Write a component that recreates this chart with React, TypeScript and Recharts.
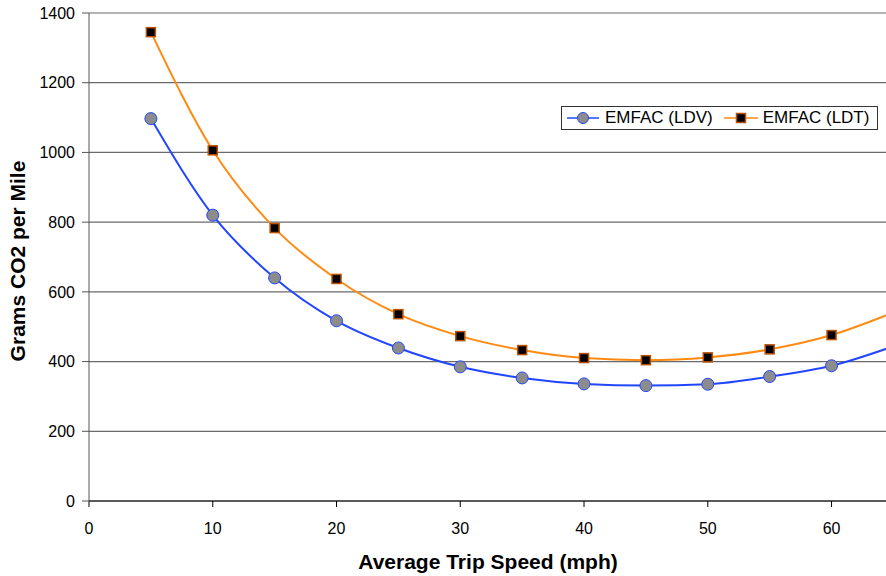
import {
  LineChart,
  Line,
  XAxis,
  YAxis,
  CartesianGrid,
} from "recharts";

const speeds = [5, 10, 15, 20, 25, 30, 35, 40, 45, 50, 55, 60, 65];
const ldv = [1097, 820, 640, 517, 439, 385, 353, 336, 331, 335, 357, 388, 444];
const ldt = [1345, 1006, 783, 637, 536, 473, 433, 410, 404, 412, 435, 476, 541];
const xTicks = [0, 10, 20, 30, 40, 50, 60];
const yTicks = [0, 200, 400, 600, 800, 1000, 1200, 1400];

const data = speeds.map((s, i) => ({ speed: s, ldv: ldv[i], ldt: ldt[i] }));

const FONT = "'Liberation Sans', Arial, sans-serif";
const BLUE = "#2246ff";
const ORANGE = "#ff8a12";

const SquareDot = (props: any) => {
  const { cx, cy } = props;
  if (cx == null || cy == null) return null;
  return (
    <rect
      x={cx - 4.5}
      y={cy - 4.5}
      width={9}
      height={9}
      fill="#000"
      stroke="#b85000"
      strokeWidth={1.5}
    />
  );
};

function LegendBox() {
  return (
    <div
      style={{
        position: "absolute",
        left: 561,
        top: 106,
        width: 317,
        height: 24,
        boxSizing: "border-box",
        border: "1px solid #333",
        background: "#fff",
        display: "flex",
        alignItems: "center",
        fontFamily: FONT,
        fontSize: 17,
        color: "#000",
        whiteSpace: "nowrap",
      }}
    >
      <svg width={36} height={20} style={{ marginLeft: 3 }}>
        <line x1={2} y1={10} x2={34} y2={10} stroke={BLUE} strokeWidth={1.5} />
        <circle cx={18} cy={10} r={5.5} fill="#8c8c8c" stroke={BLUE} strokeWidth={1} />
      </svg>
      <span style={{ marginLeft: 4 }}>EMFAC (LDV)</span>
      <svg width={38} height={20} style={{ marginLeft: 9 }}>
        <line x1={2} y1={10} x2={36} y2={10} stroke={ORANGE} strokeWidth={1.5} />
        <rect x={14.5} y={5.5} width={9} height={9} fill="#000" stroke="#b85000" strokeWidth={1.5} />
      </svg>
      <span style={{ marginLeft: 3 }}>EMFAC (LDT)</span>
    </div>
  );
}

export default function App() {
  return (
    <div style={{ position: "absolute", left: 0, top: 0, width: 886, height: 576, background: "#fff" }}>
      <LineChart
        width={886}
        height={576}
        data={data}
        margin={{ top: 13, right: 0, bottom: 0, left: 0 }}
      >
        <CartesianGrid vertical={false} stroke="#6a6a6a" strokeWidth={1.2} />
        <XAxis
          dataKey="speed"
          type="number"
          domain={[0, 64.4]}
          allowDataOverflow
          ticks={xTicks}
          height={75}
          stroke="#000"
          tickSize={6}
          tickMargin={16}
          tick={{ fill: "#000", fontSize: 16, fontFamily: FONT }}
          label={{
            content: () => (
              <text
                x={488}
                y={569}
                textAnchor="middle"
                fontFamily={FONT}
                fontSize={21}
                fontWeight="bold"
                fill="#000"
              >
                Average Trip Speed (mph)
              </text>
            ),
          }}
        />
        <YAxis
          type="number"
          domain={[0, 1400]}
          ticks={yTicks}
          width={89}
          stroke="#555"
          tickSize={7}
          tickMargin={7}
          tick={{ fill: "#000", fontSize: 16, fontFamily: FONT }}
          label={{
            content: () => (
              <text
                x={25}
                y={261}
                transform="rotate(-90 25 261)"
                textAnchor="middle"
                fontFamily={FONT}
                fontSize={21}
                fontWeight="bold"
                fill="#000"
              >
                Grams CO2 per Mile
              </text>
            ),
          }}
        />
        <Line
          type="monotone"
          dataKey="ldt"
          stroke={ORANGE}
          strokeWidth={2}
          dot={<SquareDot />}
          isAnimationActive={false}
        />
        <Line
          type="monotone"
          dataKey="ldv"
          stroke={BLUE}
          strokeWidth={2}
          dot={{ r: 6, fill: "#8c8c8c", stroke: BLUE, strokeWidth: 1 }}
          isAnimationActive={false}
        />
      </LineChart>
      <LegendBox />
    </div>
  );
}
